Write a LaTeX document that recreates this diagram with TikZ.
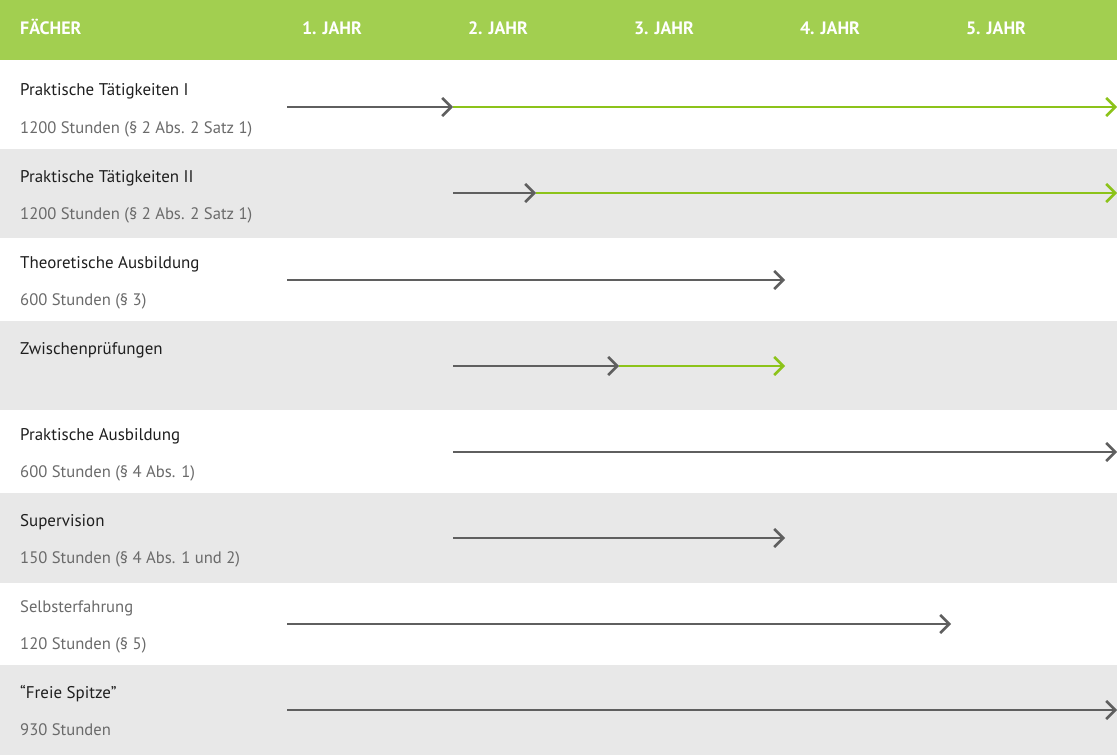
\documentclass[tikz,border=0pt]{standalone}
\usepackage{fontspec}
\setmainfont{PT Sans}
\usetikzlibrary{arrows.meta}

\definecolor{kopf}{HTML}{A2CF50}
\definecolor{zeile}{HTML}{E8E8E8}
\definecolor{pfeilgrau}{HTML}{5F5F5F}
\definecolor{pfeilgruen}{HTML}{8CC31A}
\definecolor{titel}{HTML}{1E1E1E}
\definecolor{unter}{HTML}{6A6A6A}

\begin{document}
\begin{tikzpicture}[x=1bp,y=-1bp,
  >={Straight Barb[length=9bp,width=18bp,line width=2.6bp]},
  kopftext/.style={anchor=base,inner sep=0,text=white,font=\bfseries\fontsize{18}{21}\selectfont},
  fach/.style={anchor=base west,inner sep=0,text=titel,font=\fontsize{17}{20}\selectfont},
  stunden/.style={anchor=base west,inner sep=0,text=unter,font=\fontsize{16.7}{20}\selectfont},
  grau/.style={draw=pfeilgrau,line width=2bp,->},
  gruen/.style={draw=pfeilgruen,line width=2bp,->}]
\useasboundingbox (0,0) rectangle (1117,755);
%% header and row stripes
\fill[kopf] (0,0) rectangle (1117,60);
\fill[zeile] (0,149) rectangle (1117,238);
\fill[zeile] (0,321) rectangle (1117,410);
\fill[zeile] (0,493) rectangle (1117,583);
\fill[zeile] (0,665) rectangle (1117,755);
%% header
\node (faecher) at (20,35) [kopftext,anchor=base west] {FÄCHER};
\node (jahr1) at (332,35) [kopftext] {1. JAHR};
\node (jahr2) at (498,35) [kopftext] {2. JAHR};
\node (jahr3) at (664,35) [kopftext] {3. JAHR};
\node (jahr4) at (830,35) [kopftext] {4. JAHR};
\node (jahr5) at (996,35) [kopftext] {5. JAHR};
%% subjects
\node (praktI) at (20,96) [fach] {Praktische Tätigkeiten I};
\node (praktIstd) at (20,133) [stunden] {1200 Stunden (§ 2 Abs. 2 Satz 1)};
\node (praktII) at (20,182) [fach] {Praktische Tätigkeiten II};
\node (praktIIstd) at (20,219) [stunden] {1200 Stunden (§ 2 Abs. 2 Satz 1)};
\node (theorie) at (20,268) [fach] {Theoretische Ausbildung};
\node (theoriestd) at (20,305) [stunden] {600 Stunden (§ 3)};
\node (zwischen) at (20,354) [fach] {Zwischenprüfungen};
\node (ausbildung) at (20,440) [fach] {Praktische Ausbildung};
\node (ausbildungstd) at (20,477) [stunden] {600 Stunden (§ 4 Abs. 1)};
\node (supervision) at (20,526) [fach] {Supervision};
\node (supervisionstd) at (20,563) [stunden] {150 Stunden (§ 4 Abs. 1 und 2)};
\node (selbst) at (20,612) [stunden] {Selbsterfahrung};
\node (selbststd) at (20,649) [stunden] {120 Stunden (§ 5)};
\node (spitze) at (20,698) [fach] {“Freie Spitze”};
\node (spitzestd) at (20,735) [stunden] {930 Stunden};
%% time bars
\coordinate (praktIa) at (287,107);
\coordinate (praktIb) at (453,107);
\coordinate (praktIc) at (1117,107);
\coordinate (praktIIa) at (453,193);
\coordinate (praktIIb) at (536,193);
\coordinate (praktIIc) at (1117,193);
\coordinate (theoriea) at (287,280);
\coordinate (theorieb) at (785,280);
\coordinate (zwischena) at (453,366);
\coordinate (zwischenb) at (619,366);
\coordinate (zwischenc) at (785,366);
\coordinate (ausbildunga) at (453,452);
\coordinate (ausbildungb) at (1117,452);
\coordinate (supervisiona) at (453,538);
\coordinate (supervisionb) at (785,538);
\coordinate (selbsta) at (287,624);
\coordinate (selbstb) at (951,624);
\coordinate (spitzea) at (287,710);
\coordinate (spitzeb) at (1117,710);
\draw [grau] (praktIa) -- (praktIb);
\draw [gruen] (praktIb) -- (praktIc);
\draw [grau] (praktIIa) -- (praktIIb);
\draw [gruen] (praktIIb) -- (praktIIc);
\draw [grau] (theoriea) -- (theorieb);
\draw [grau] (zwischena) -- (zwischenb);
\draw [gruen] (zwischenb) -- (zwischenc);
\draw [grau] (ausbildunga) -- (ausbildungb);
\draw [grau] (supervisiona) -- (supervisionb);
\draw [grau] (selbsta) -- (selbstb);
\draw [grau] (spitzea) -- (spitzeb);
%
\end{tikzpicture}
\end{document}
